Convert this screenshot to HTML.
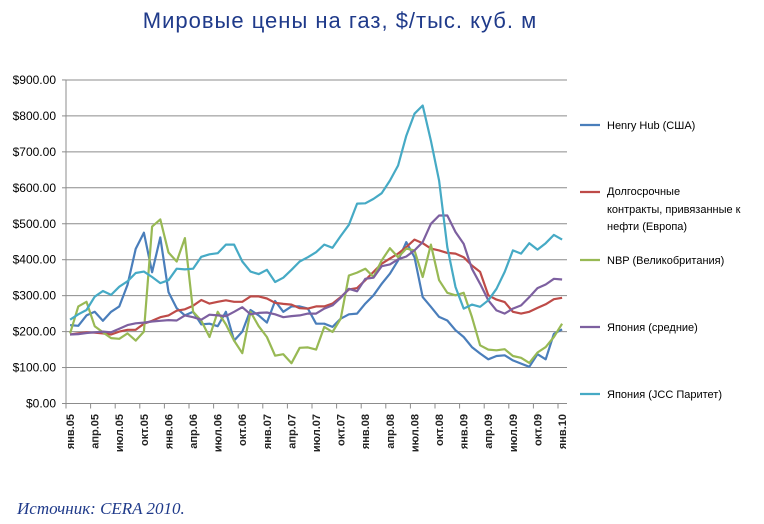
<!DOCTYPE html>
<html><head><meta charset="utf-8"><style>
body{margin:0;background:#fff;width:764px;height:524px;overflow:hidden}
svg{display:block}
text{font-family:"Liberation Sans",sans-serif}
</style></head><body>
<svg id="s" width="764" height="524" xmlns="http://www.w3.org/2000/svg">
<text x="340" y="28" text-anchor="middle" font-size="22" fill="#1F3A8A" letter-spacing="1">Мировые цены на газ, $/тыс. куб. м</text>
<g id="grid"></g>
<g id="lines" fill="none" stroke-width="2.2" stroke-linejoin="round"></g>
<g font-size="11" fill="#000">
<line x1="580" y1="125" x2="600" y2="125" stroke="#4A7EBB" stroke-width="2.2"/><text x="607" y="129">Henry Hub (США)</text>
<line x1="580" y1="192" x2="600" y2="192" stroke="#BE4B48" stroke-width="2.2"/><text x="607" y="195">Долгосрочные</text><text x="607" y="213">контракты, привязанные к</text><text x="607" y="230">нефти (Европа)</text>
<line x1="580" y1="260" x2="600" y2="260" stroke="#98B954" stroke-width="2.2"/><text x="607" y="264">NBP (Великобритания)</text>
<line x1="580" y1="327" x2="600" y2="327" stroke="#7D60A0" stroke-width="2.2"/><text x="607" y="331">Япония (средние)</text>
<line x1="580" y1="394" x2="600" y2="394" stroke="#46AAC5" stroke-width="2.2"/><text x="607" y="398">Япония (JCC Паритет)</text>
</g>
<text x="17" y="514" style="font-family:'Liberation Serif',serif;font-style:italic;font-size:17px" fill="#1F3A8A">Источник: CERA 2010.</text>
</svg>
<script>
var s=document.getElementById('s'),g=document.getElementById('grid'),L=document.getElementById('lines');
var NS="http://www.w3.org/2000/svg";
function el(t,a,p,txt){var e=document.createElementNS(NS,t);for(var k in a)e.setAttribute(k,a[k]);if(txt)e.textContent=txt;p.appendChild(e);return e;}
var y0=403.5,sc=0.3595,x0=66,st=8.2;
for(var v=0;v<=900;v+=100){var y=y0-v*sc;
 if(v>0)el('line',{x1:x0,x2:567,y1:y,y2:y,stroke:'#8c8c8c','stroke-width':1},g);
 el('line',{x1:x0-4,x2:x0,y1:y,y2:y,stroke:'#8c8c8c'},g);
 el('text',{x:56,y:y+4,'text-anchor':'end','font-size':12,fill:'#000'},g,'$'+v+'.00');}
el('line',{x1:x0,x2:x0,y1:80,y2:y0,stroke:'#8c8c8c'},g);
el('line',{x1:x0,x2:567,y1:y0,y2:y0,stroke:'#8c8c8c'},g);
var m=['янв','апр','июл','окт'];
for(var k=0;k<=20;k++){var x=x0+k*3*st;el('line',{x1:x,x2:x,y1:y0,y2:y0+5,stroke:'#8c8c8c'},g);
 var lab=m[k%4]+'.'+('0'+(5+Math.floor(k/4))).slice(-2);
 el('text',{x:0,y:0,'font-size':11,'font-weight':'bold',fill:'#222','text-anchor':'end',transform:'translate('+(x+8)+',414) rotate(-90)'},g,lab);}
var D=[
['#4A7EBB',[218,216,245,255,230,255,270,330,430,475,365,462,310,265,245,255,220,222,215,255,175,200,260,245,225,285,255,270,270,264,222,222,213,236,248,250,278,301,333,361,398,449,407,296,269,241,231,204,185,157,139,123,132,134,120,111,102,137,123,194,206]],
['#BE4B48',[192,195,198,197,195,192,200,205,205,222,230,240,245,258,262,272,288,278,283,287,283,283,298,298,292,280,277,275,265,264,270,270,278,296,317,321,343,366,389,403,417,435,456,446,431,426,419,417,407,384,366,301,289,282,255,250,255,266,276,290,294]],
['#98B954',[195,270,283,215,198,182,180,195,175,200,492,512,420,395,460,255,230,185,255,220,175,140,255,215,185,133,137,112,155,156,150,213,199,236,356,364,375,352,398,432,407,431,426,352,442,343,308,301,308,241,162,150,148,151,132,127,113,142,157,185,222]],
['#7D60A0',[192,193,196,198,200,198,208,218,223,225,228,230,232,231,245,240,233,247,245,243,255,268,248,252,253,248,240,243,245,250,250,264,273,294,319,312,347,350,382,387,401,409,426,449,500,523,523,477,444,375,333,287,259,250,264,273,296,321,331,347,345]],
['#46AAC5',[233,248,260,297,313,302,325,340,363,367,352,335,343,375,373,375,408,415,418,442,442,395,367,360,372,338,350,372,395,407,421,442,433,466,497,556,557,569,585,620,662,745,806,829,731,620,435,324,264,275,269,287,319,366,426,417,446,428,446,469,456]]];
D.forEach(function(d){var p=d[1].map(function(v,i){return (x0+st*(i+0.5)).toFixed(1)+','+(y0-v*sc).toFixed(1)}).join(' ');
 el('polyline',{points:p,stroke:d[0]},L);});
</script>
</body></html>
